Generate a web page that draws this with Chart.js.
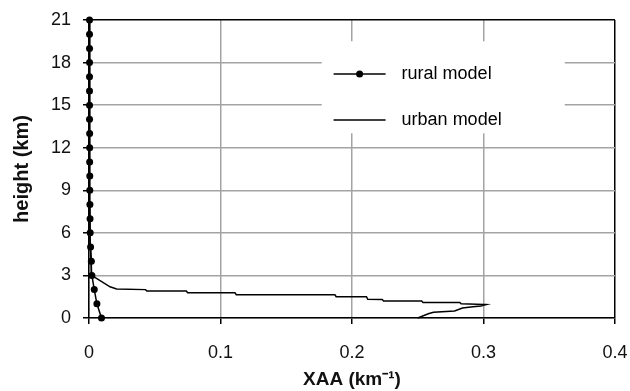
<!DOCTYPE html>
<html>
<head>
<meta charset="utf-8">
<script src="https://cdn.jsdelivr.net/npm/chart.js@4"></script>
<style>
  html, body { margin: 0; padding: 0; background: #fff; }
  #wrap { width: 630px; height: 391px; }
</style>
</head>
<body>
<div id="wrap"><canvas id="myChart"></canvas></div>
<script>
// dados
const ruralHeights = [0, 1, 2, 3, 4, 5, 6, 7, 8, 9, 10, 11, 12, 13, 14, 15, 16, 17, 18, 19, 20, 21];
const ruralXaa = [0.0095, 0.006, 0.004, 0.0022, 0.0018, 0.0012, 0.0009, 0.0008, 0.0007, 0.0006, 0.0006, 0.0005,
  0.0005, 0.0005, 0.0004, 0.0004, 0.0004, 0.0004, 0.0004, 0.0004, 0.0004, 0.0004];

const urbanHeights = [21, 6, 3, 2.2, 2.05, 2.0, 1.9, 1.9, 1.78, 1.78, 1.64, 1.64, 1.5, 1.5, 1.32, 1.3, 1.2, 1.2,
  1.1, 1.1, 1.0, 0.95, 0.85, 0.8, 0.7, 0.5, 0.4, 0.3, 0];
const urbanXaa = [0, 0.0005, 0.002, 0.016, 0.021, 0.043, 0.044, 0.074, 0.075, 0.111, 0.112, 0.187, 0.188, 0.211,
  0.212, 0.223, 0.224, 0.253, 0.254, 0.282, 0.283, 0.302, 0.298, 0.292, 0.284, 0.278, 0.262, 0.258, 0.25];

const xTicks = [0, 0.1, 0.2, 0.3, 0.4];
const yTicks = [0, 3, 6, 9, 12, 15, 18, 21];

const seriesNames = ['rural model', 'urban model'];

const ruralPts = ruralHeights.map((h, i) => ({ x: ruralXaa[i], y: h }));
const urbanPts = urbanHeights.map((h, i) => ({ x: urbanXaa[i], y: h }));

// legenda dentro da area do grafico
const legendBox = {
  id: 'legendBox',
  afterDatasetsDraw(chart) {
    const c = chart.ctx;
    const xs = chart.scales.x, ys = chart.scales.y;
    c.save();
    c.fillStyle = '#fff';
    c.fillRect(xs.getPixelForValue(0.177), ys.getPixelForValue(19.5), 243, 92);
    c.strokeStyle = '#000';
    c.fillStyle = '#000';
    c.lineWidth = 1.5;
    const x0 = xs.getPixelForValue(0.186);
    const rows = [ys.getPixelForValue(17.2), ys.getPixelForValue(13.95)];
    chart.data.datasets.forEach((ds, i) => {
      const y = rows[i];
      c.beginPath();
      c.moveTo(x0, y);
      c.lineTo(x0 + 52, y);
      c.stroke();
      if (ds.pointRadius > 0) {
        c.beginPath();
        c.arc(x0 + 26, y, 3.5, 0, Math.PI * 2);
        c.fill();
      }
      c.font = '18px "Liberation Sans", Arial, sans-serif';
      c.textBaseline = 'middle';
      c.fillText(ds.label, x0 + 68, y);
    });
    c.restore();
  }
};

new Chart(document.getElementById('myChart'), {
  type: 'line',
  data: {
    datasets: [{
      label: seriesNames[0],
      data: ruralPts,
      borderColor: '#000',
      backgroundColor: '#000',
      borderWidth: 1.5,
      pointRadius: 3.5,
      pointBorderWidth: 0,
      clip: false
    }, {
      label: seriesNames[1],
      data: urbanPts,
      borderColor: '#000',
      borderWidth: 1.5,
      pointRadius: 0,
      clip: false
    }]
  },
  options: {
    responsive: true,
    maintainAspectRatio: false,
    animation: false,
    layout: { padding: { top: 20, right: 0, left: 0, bottom: 0 } },
    plugins: {
      legend: { display: false },
      tooltip: { enabled: false }
    },
    scales: {
      x: {
        type: 'linear',
        min: 0,
        max: 0.4,
        afterBuildTicks: s => { s.ticks = xTicks.map(v => ({ value: v })); },
        afterFit: s => { s.height = 73; s.paddingRight = 15; s.paddingLeft = 0; },
        ticks: {
          color: '#111',
          padding: 18,
          font: { family: '"Liberation Sans", Arial, sans-serif', size: 18 },
          callback: v => String(v)
        },
        grid: {
          color: ctx => (ctx.tick && ctx.tick.value === 0.4) ? '#000' : '#a3a3a3',
          lineWidth: 1.5,
          tickColor: '#000',
          tickLength: 6
        },
        border: { color: '#000', width: 1.5 },
        title: {
          display: true,
          text: 'XAA (km\u207B\u00B9)',
          color: '#111',
          font: { family: '"Liberation Sans", Arial, sans-serif', size: 19, weight: 'bold' },
          padding: { top: 0, bottom: 0 }
        }
      },
      y: {
        type: 'linear',
        min: 0,
        max: 21,
        afterBuildTicks: s => { s.ticks = yTicks.map(v => ({ value: v })); },
        afterFit: s => { s.width = 89; s.paddingTop = 0; s.paddingBottom = 0; },
        ticks: {
          color: '#111',
          padding: 12,
          font: { family: '"Liberation Sans", Arial, sans-serif', size: 18 }
        },
        grid: {
          color: ctx => (ctx.tick && ctx.tick.value === 21) ? '#000' : '#a3a3a3',
          lineWidth: 1.5,
          tickColor: '#000',
          tickLength: 6
        },
        border: { color: '#000', width: 1.5 },
        title: {
          display: true,
          text: 'height (km)',
          color: '#111',
          font: { family: '"Liberation Sans", Arial, sans-serif', size: 20, weight: 'bold' },
          padding: { top: 10, bottom: 0 }
        }
      }
    }
  },
  plugins: [legendBox]
});
</script>
</body>
</html>
